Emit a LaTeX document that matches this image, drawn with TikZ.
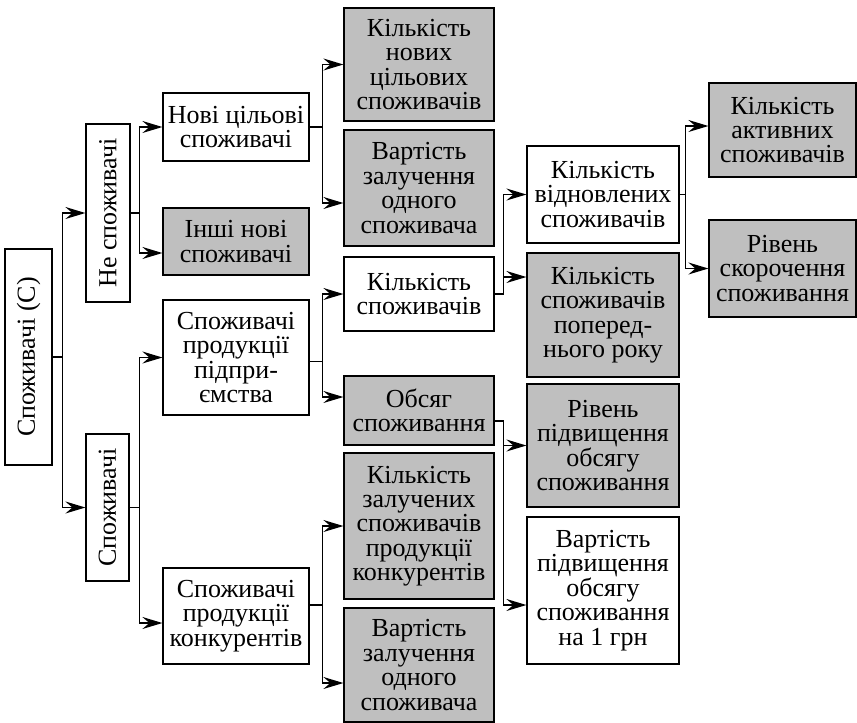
\documentclass[tikz,border=0pt]{standalone}
\usepackage{fontspec}
\setmainfont{Liberation Serif}
\usepackage{tikz}
\usetikzlibrary{arrows.meta}
\tikzset{font={\fontsize{13pt}{12.2pt}\selectfont}}
\tikzset{box/.style={draw,line width=0.6pt,align=center,inner sep=0pt,minimum width=75pt},
  shaded/.style={box,fill=black!25},
  arr/.style={line width=0.7pt,-{Stealth[length=10pt,width=6pt,inset=3.5pt]}}}

\begin{document}
\begin{tikzpicture}[x=0.5pt,y=-0.5pt]
\useasboundingbox (0,0) rectangle (857,723);

%left column
\node[box,rotate=90,minimum width=108pt,minimum height=23.5pt] at (28.5,357) (cons) {Споживачі (С)};
\node[box,rotate=90,minimum width=89pt,minimum height=22pt] at (108,213) (noncons) {Не споживачі};
\node[box,rotate=90,minimum width=73.5pt,minimum height=21.5pt] at (107.5,507.5) (cust) {Споживачі};

%second column
\node[box,minimum width=73pt,minimum height=34pt] at (236,127) (newtarget) {Нові цільові\\споживачі};
\node[shaded,minimum width=73pt,minimum height=33.5pt] at (236,241.5) (othernew) {Інші нові\\споживачі};
\node[box,minimum width=73pt,minimum height=57.5pt] at (236,357.5) (ownprod) {Споживачі\\продукції\\підпри-\\ємства};
\node[box,minimum width=73pt,minimum height=48pt] at (236,616) (compprod) {Споживачі\\продукції\\конкурентів};

%third column
\node[shaded,minimum height=56.5pt] at (419,64.5) (numnew) {Кількість\\нових\\цільових\\споживачів};
\node[shaded,minimum height=58pt] at (419,188) (costtop) {Вартість\\залучення\\одного\\споживача};
\node[box,minimum height=37pt] at (419,294) (numcons) {Кількість\\споживачів};
\node[shaded,minimum height=34.5pt] at (419,410.5) (volume) {Обсяг\\споживання};
\node[shaded,minimum height=73pt] at (419,526) (numcomp) {Кількість\\залучених\\споживачів\\продукції\\конкурентів};
\node[shaded,minimum height=57pt] at (419,665) (costbot) {Вартість\\залучення\\одного\\споживача};

%fourth column
\node[box,minimum width=76pt,minimum height=48.5pt] at (603,194.5) (restored) {Кількість\\відновлених\\споживачів};
\node[shaded,minimum width=76pt,minimum height=62pt] at (603,315) (prevyear) {Кількість\\споживачів\\поперед-\\нього року};
\node[shaded,minimum width=76pt,minimum height=61.5pt] at (603,445.5) (volup) {Рівень\\підвищення\\обсягу\\споживання};
\node[box,minimum width=76pt,minimum height=73.5pt] at (603,590.5) (costup) {Вартість\\підвищення\\обсягу\\споживання\\на 1 грн};

%fifth column
\node[shaded,minimum width=73.5pt,minimum height=47pt] at (782.5,130) (active) {Кількість\\активних\\споживачів};
\node[shaded,minimum width=73.5pt,minimum height=48.5pt] at (782.5,268.5) (reduce) {Рівень\\скорочення\\споживання};

%connectors (rotated nodes: south is the right side, north the left side)
\draw[arr] (cons.south) -- ++(10,0) |- (noncons.north);
\draw[arr] (cons.south) -- ++(10,0) |- (cust.north);

\draw[arr] (noncons.south) -- ++(9,0) |- (newtarget.west);
\draw[arr] (noncons.south) -- ++(9,0) |- ([yshift=-5.75pt]othernew.west);
\draw[arr] (cust.south) -- ++(10,0) |- (ownprod.west);
\draw[arr] (cust.south) -- ++(10,0) |- ([yshift=-3.5pt]compprod.west);

\draw[arr] (newtarget.east) -- ++(13,0) |- (numnew.west);
\draw[arr] (newtarget.east) -- ++(13,0) |- ([yshift=-7.5pt]costtop.west);
\draw[arr] ([yshift=-2pt]ownprod.east) -- ++(13,0) |- (numcons.west);
\draw[arr] ([yshift=-2pt]ownprod.east) -- ++(13,0) |- ([yshift=6.75pt]volume.west);
\draw[arr] ([yshift=5.5pt]compprod.east) -- ++(13,0) |- (numcomp.west);
\draw[arr] ([yshift=5.5pt]compprod.east) -- ++(13,0) |- ([yshift=-9pt]costbot.west);

\draw[arr] (numcons.east) -- ++(9,0) |- (restored.west);
\draw[arr] (numcons.east) -- ++(9,0) |- ([yshift=19pt]prevyear.west);
\draw[arr] ([yshift=-5.25pt]volume.east) -- ++(9,0) |- (volup.west);
\draw[arr] ([yshift=-5.25pt]volume.east) -- ++(9,0) |- ([yshift=-7.25pt]costup.west);

\draw[arr] (restored.east) -- ++(6,0) |- ([yshift=2pt]active.west);
\draw[arr] (restored.east) -- ++(6,0) |- (reduce.west);

\end{tikzpicture}
\end{document}
